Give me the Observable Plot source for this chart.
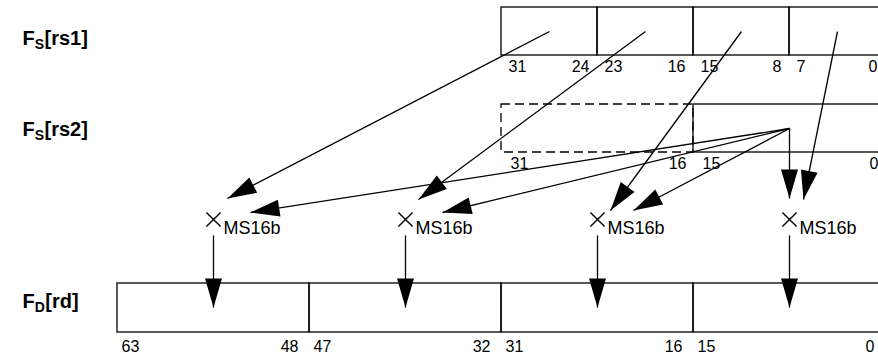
<!DOCTYPE html>
<html><head><meta charset="utf-8">
<script src="https://cdn.jsdelivr.net/npm/d3@7"></script>
<script src="https://cdn.jsdelivr.net/npm/@observablehq/plot@0.6"></script>
<style>body{margin:0;background:#fff} svg{display:block}</style>
</head><body><div id="chart"></div>
<script>
// ---- data ----
const registers = ["rs1", "rs2", "rd"];
const regLetter = ["S", "S", "D"];
const rs1Fields = [[31, 24], [23, 16], [15, 8], [7, 0]];   // bytes of Fs[rs1]
const rs2Fields = [[31, 16], [15, 0]];                     // halves of Fs[rs2]
const rs2Used = [false, true];                             // upper half unused (dashed)
const rdFields = [[63, 48], [47, 32], [31, 16], [15, 0]];  // 16-bit results in Fd[rd]
const opLabel = "MS16b";
const rs1ToMul = [0, 1, 2, 3];  // byte i of rs1 feeds multiplier i
const rs2ToMul = [0, 1, 2, 3];  // low half of rs2 feeds every multiplier

// ---- layout ----
const W = 878, H = 355;
const rowY = {rs1: [7, 55], rs2: [104, 152], rd: [283, 332]};
const nameY = {rs1: 38, rs2: 129, rd: 301};
const labelGap = {rs1: 11, rs2: 11, rd: 14};
const labelDx = {rs1: [7, -8], rs2: [9, -7], rd: [4, -11]};
const mulY = 219;
const head = {L: 29, W: 17};
const rs1Tip = [[14, -21], [13, -20], [13, -9], [14, -20]];
const rs2Tip = [[37, -7], [37, -7], [36, -9], [0, -21]];
const xDomain = [64, 0], xRange = [117, 885];
const xs = d3.scaleLinear(xDomain, xRange);

// ---- derived tables ----
const boxes = [];
const bitLabels = [];
function addRow(reg, fields, used) {
  fields.forEach(([msb, lsb], i) => {
    boxes.push({reg, x1: msb + 1, x2: lsb, y1: rowY[reg][0], y2: rowY[reg][1], dashed: used ? !used[i] : false});
    const yl = rowY[reg][1] + labelGap[reg];
    bitLabels.push({reg, x: msb + 1, y: yl, text: String(msb), anchor: "start", dx: labelDx[reg][0]});
    bitLabels.push({reg, x: lsb, y: yl, text: String(lsb), anchor: "end", dx: labelDx[reg][1]});
  });
}
addRow("rs1", rs1Fields);
addRow("rs2", rs2Fields, rs2Used);
addRow("rd", rdFields);

const mulX = rdFields.map(([msb, lsb]) => (msb + 1 + lsb) / 2);
const mid = (reg) => (rowY[reg][0] + rowY[reg][1]) / 2;

const arrows = [];
rs1Fields.forEach(([msb, lsb], i) => {
  const m = rs1ToMul[i];
  const tx = xs.invert(xs(mulX[m]) + rs1Tip[m][0]);
  arrows.push({x1: (msb + 1 + lsb) / 2, y1: mid("rs1"), x2: tx, y2: mulY + rs1Tip[m][1]});
});
const [hMsb, hLsb] = rs2Fields[1];
rs2ToMul.forEach((m) => {
  const tx = xs.invert(xs(mulX[m]) + rs2Tip[m][0]);
  arrows.push({x1: (hMsb + 1 + hLsb) / 2, y1: mid("rs2"), x2: tx, y2: mulY + rs2Tip[m][1]});
});
mulX.forEach((mx) => arrows.push({x1: mx, y1: mulY + 16, x2: mx, y2: rowY.rd[0] + 24}));
arrows.forEach((a) => {
  const dx = xs(a.x2) - xs(a.x1), dy = a.y2 - a.y1;
  a.rot = Math.atan2(-dx, dy) * 180 / Math.PI;
});

const headSymbol = {draw(ctx) {
  ctx.moveTo(0, 0); ctx.lineTo(-head.W / 2, -head.L); ctx.lineTo(head.W / 2, -head.L); ctx.closePath();
}};

// register name labels (F + subscript + [reg])
const cnv = document.createElement("canvas").getContext("2d");
function tw(s, font) { cnv.font = font; return cnv.measureText(s).width; }
const FONT = "Liberation Sans, Arial, Helvetica, sans-serif";
const names = registers.map((r, i) => {
  const wF = tw("F", `bold 20px ${FONT}`);
  const wS = tw(regLetter[i], `bold 14px ${FONT}`);
  return {reg: r, y: nameY[r], sub: regLetter[i], br: `[${r}]`, dxS: 22 + wF, dxB: 22 + wF + wS + 0.5};
});
const muls = mulX.map((x) => ({x, y: mulY}));

const chart = Plot.plot({
  width: W, height: H,
  margin: 0,
  x: {domain: xDomain, range: xRange, axis: null},
  y: {domain: [0, H], range: [0, H], axis: null},
  style: {fontFamily: FONT, background: "white"},
  marks: [
    Plot.rect(boxes.filter(d => d.dashed), {x1: "x1", x2: "x2", y1: "y1", y2: "y2", fill: "none", stroke: "black", strokeWidth: 1.3, strokeDasharray: "9,5"}),
    Plot.rect(boxes.filter(d => !d.dashed), {x1: "x1", x2: "x2", y1: "y1", y2: "y2", fill: "none", stroke: "black", strokeWidth: 1.3}),
    Plot.text(bitLabels.filter(d => d.anchor === "start"), {x: "x", y: "y", text: "text", textAnchor: "start", fontSize: 16, fill: "black"}),
    Plot.text(bitLabels.filter(d => d.anchor === "end"), {x: "x", y: "y", text: "text", textAnchor: "end", fontSize: 16, fill: "black"}),
    Plot.link(arrows, {x1: "x1", y1: "y1", x2: "x2", y2: "y2", stroke: "black", strokeWidth: 1.3}),
    Plot.dot(arrows, {x: "x2", y: "y2", rotate: "rot", symbol: headSymbol, fill: "black", stroke: "none"}),
    Plot.dot(muls, {x: "x", y: "y", symbol: "times", r: 6.5, stroke: "black", strokeWidth: 1.4}),
    Plot.text(muls, {x: "x", y: "y", text: () => opLabel, textAnchor: "start", dx: 10, dy: 9, fontSize: 18, fill: "black"}),
    Plot.text(names, {frameAnchor: "left", y: "y", text: () => "F", dx: 22, fontSize: 20, fontWeight: "bold", fill: "black"}),
    Plot.text(names, {frameAnchor: "left", y: "y", text: "sub", fontSize: 14, fontWeight: "bold", fill: "black"}),
    Plot.text(names, {frameAnchor: "left", y: "y", text: "br", fontSize: 20, fontWeight: "bold", fill: "black"})
  ]
});
document.getElementById("chart").append(chart);
// per-label horizontal offsets: bit labels and register-name pieces
const texts = chart.querySelectorAll("g[aria-label=text]");
[texts[0], texts[1]].forEach((g, k) => {
  const data = bitLabels.filter(d => d.anchor === (k === 0 ? "start" : "end"));
  g.querySelectorAll("text").forEach((t, i) => t.setAttribute("dx", data[i].dx));
});
const brG = texts[texts.length - 1], subG = texts[texts.length - 2];
brG.querySelectorAll("text").forEach((t, i) => t.setAttribute("transform", `translate(${names[i].dxB},${names[i].y})`));
subG.querySelectorAll("text").forEach((t, i) => t.setAttribute("transform", `translate(${names[i].dxS},${names[i].y + 6})`));
</script>
</body></html>
